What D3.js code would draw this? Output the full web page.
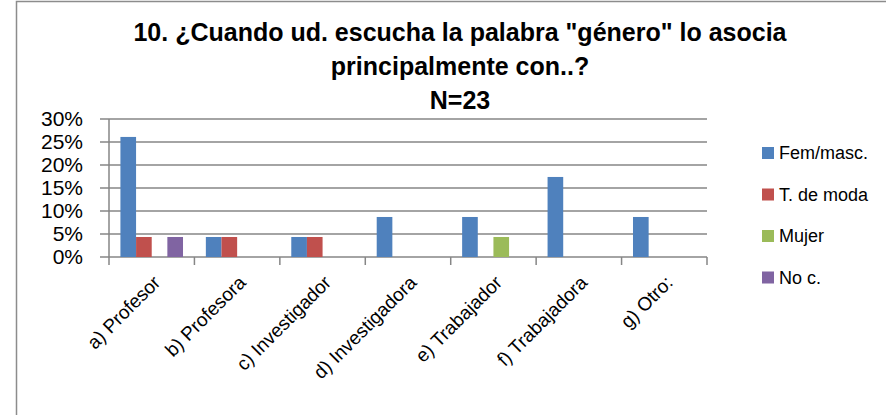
<!DOCTYPE html>
<html>
<head>
<meta charset="utf-8">
<script src="https://cdn.jsdelivr.net/npm/d3@7"></script>
<style>
  body { margin: 0; background: #fff; }
  text { font-family: "Liberation Sans", Arial, sans-serif; }
</style>
</head>
<body>
<script>
var categories = ["a) Profesor", "b) Profesora", "c) Investigador", "d) Investigadora",
                  "e) Trabajador", "f) Trabajadora", "g) Otro:"]
var seriesNames = ["Fem/masc.", "T. de moda", "Mujer", "No c."]
var seriesColors = ["#4F81BD", "#C0504D", "#9BBB59", "#8064A2"]
// percentages, N=23
var femMasc  = [26.1, 4.35, 4.35, 8.7, 8.7, 17.4, 8.7]
var tDeModa  = [4.35, 4.35, 4.35, 0, 0, 0, 0]
var mujer    = [0, 0, 0, 0, 4.35, 0, 0]
var noC      = [4.35, 0, 0, 0, 0, 0, 0]
var yTicks = [0, 5, 10, 15, 20, 25, 30]
var titleLines = ['10. ¿Cuando ud. escucha la palabra "género" lo asocia', 'principalmente con..?', 'N=23']

var seriesValues = [femMasc, tDeModa, mujer, noC]

var width = 886, height = 415
var margin = {top: 119, left: 109, right: 179, bottom: 158}
var plotW = width - margin.left - margin.right,
    plotH = height - margin.top - margin.bottom

var svg = d3.select("body").append("svg")
    .attr("width", width)
    .attr("height", height)

// chart border
svg.append("rect")
    .attr("x", 16.5).attr("y", 1.5)
    .attr("width", 900).attr("height", 500)
    .attr("fill", "none")
    .attr("stroke", "#8c8c8c")
    .attr("stroke-width", 1.5)

// title
svg.selectAll(".title")
    .data(titleLines)
    .enter().append("text")
    .attr("class", "title")
    .attr("x", 460)
    .attr("y", function(d, i) { return 41 + i * 34 })
    .attr("text-anchor", "middle")
    .style("font-weight", "bold")
    .style("font-size", "25px")
    .text(function(d) { return d })

var x0 = d3.scaleBand()
    .domain(categories)
    .range([0, plotW])

var x1 = d3.scaleBand()
    .domain(d3.range(seriesNames.length))
    .range([0, x0.bandwidth()])
    .paddingOuter(0.73)

var y = d3.scaleLinear()
    .domain([0, 30])
    .range([plotH, 0])

var g = svg.append("g")
    .attr("transform", "translate(" + margin.left + "," + margin.top + ")")

// gridlines
g.selectAll(".grid")
    .data(yTicks)
    .enter().append("line")
    .attr("x1", -9).attr("x2", plotW)
    .attr("y1", function(d) { return y(d) })
    .attr("y2", function(d) { return y(d) })
    .attr("stroke", "#868686")
    .attr("stroke-width", 1.5)

// y labels
g.selectAll(".ylab")
    .data(yTicks)
    .enter().append("text")
    .attr("x", -26)
    .attr("y", function(d) { return y(d) })
    .attr("dy", "0.35em")
    .attr("text-anchor", "end")
    .style("font-size", "21px")
    .text(function(d) { return d + "%" })

// y axis line
g.append("line")
    .attr("x1", 0).attr("x2", 0)
    .attr("y1", 0).attr("y2", plotH)
    .attr("stroke", "#868686").attr("stroke-width", 1.5)

// x axis ticks
g.selectAll(".xtick")
    .data(d3.range(categories.length + 1))
    .enter().append("line")
    .attr("x1", function(d) { return d * x0.step() })
    .attr("x2", function(d) { return d * x0.step() })
    .attr("y1", plotH).attr("y2", plotH + 8)
    .attr("stroke", "#868686").attr("stroke-width", 1.5)

// bars
var cat = g.selectAll(".cat")
    .data(categories)
    .enter().append("g")
    .attr("transform", function(d) { return "translate(" + x0(d) + ",0)" })

cat.selectAll("rect")
    .data(function(d, ci) {
      return seriesValues.map(function(vals, si) { return {s: si, v: vals[ci]} })
    })
    .enter().append("rect")
    .attr("x", function(d) { return x1(d.s) })
    .attr("width", x1.bandwidth())
    .attr("y", function(d) { return y(d.v) })
    .attr("height", function(d) { return plotH - y(d.v) })
    .attr("fill", function(d) { return seriesColors[d.s] })

// x labels
g.selectAll(".xlab")
    .data(categories)
    .enter().append("text")
    .attr("transform", function(d) {
      return "translate(" + (x0(d) + x0.bandwidth() / 2 + 5) + "," + (plotH + 22) + ") rotate(-45)"
    })
    .attr("text-anchor", "end")
    .attr("dy", "0.35em")
    .style("font-size", "19px")
    .text(function(d) { return d })

// legend
var legend = svg.selectAll(".legend")
    .data(seriesNames)
    .enter().append("g")
    .attr("transform", function(d, i) { return "translate(762," + (153 + i * 41.5) + ")" })

legend.append("rect")
    .attr("x", 0).attr("y", -6)
    .attr("width", 12).attr("height", 12)
    .attr("fill", function(d, i) { return seriesColors[i] })

legend.append("text")
    .attr("x", 17)
    .attr("dy", "0.35em")
    .style("font-size", "18px")
    .text(function(d) { return d })
</script>
</body>
</html>
